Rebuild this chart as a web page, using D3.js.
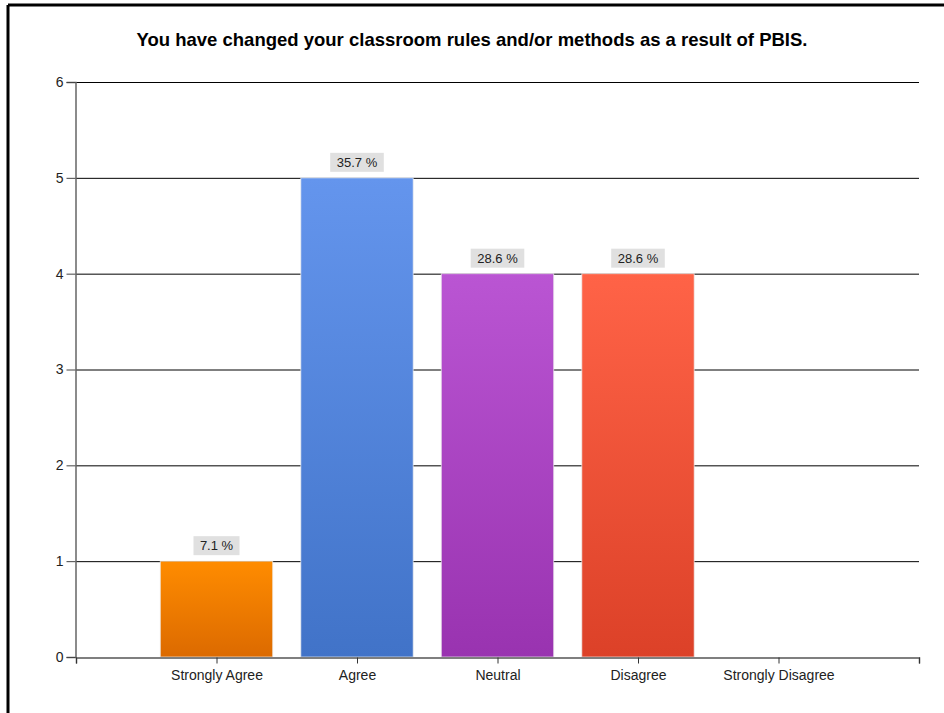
<!DOCTYPE html>
<html>
<head>
<meta charset="utf-8">
<script src="https://cdn.jsdelivr.net/npm/d3@7"></script>
<style>
  html, body { margin: 0; padding: 0; background: #fff; }
  svg { display: block; font-family: Arial, "Liberation Sans", sans-serif; }
</style>
</head>
<body>
<svg id="chart" width="944" height="713"></svg>
<script>
// chart data
const title = "You have changed your classroom rules and/or methods as a result of PBIS.";
const categories = ["Strongly Agree", "Agree", "Neutral", "Disagree", "Strongly Disagree"];
const counts = [1, 5, 4, 4, 0];
const percentLabels = ["7.1 %", "35.7 %", "28.6 %", "28.6 %", ""];
const topColors = ["#ff8c00", "#6495ed", "#ba55d3", "#ff6347"];
const bottomColors = ["#dc6a00", "#4173c8", "#9933b0", "#dc4128"];
const yTicks = [0, 1, 2, 3, 4, 5, 6];

const svg = d3.select("#chart");
const W = 944, H = 713;

// outer frame (left + top edges visible in the original)
svg.append("line").attr("x1", 8).attr("y1", 5).attr("x2", W).attr("y2", 5)
   .attr("stroke", "#000").attr("stroke-width", 3);
svg.append("line").attr("x1", 8).attr("y1", 5).attr("x2", 8).attr("y2", H)
   .attr("stroke", "#000").attr("stroke-width", 3);

// title
svg.append("text")
   .attr("x", 472).attr("y", 46)
   .attr("text-anchor", "middle")
   .style("font-size", "18.5px").style("font-weight", "bold")
   .text(title);

const plot = { left: 76, right: 919, top: 82, bottom: 657 };

// x is a linear slot scale: category i sits at i+1, axis runs 0..6
const x = d3.scaleLinear().domain([0, categories.length + 1]).range([plot.left, plot.right]);
const y = d3.scaleLinear().domain([0, 6]).range([plot.bottom, plot.top]);
const slot = x(1) - x(0);
const barW = slot * 0.8;

// gradients
const defs = svg.append("defs");
topColors.forEach((c, i) => {
  const g = defs.append("linearGradient").attr("id", "grad" + i)
    .attr("x1", 0).attr("y1", 0).attr("x2", 0).attr("y2", 1);
  g.append("stop").attr("offset", "0%").attr("stop-color", c);
  g.append("stop").attr("offset", "100%").attr("stop-color", bottomColors[i]);
});

// horizontal gridlines
svg.append("g").selectAll("line")
  .data(yTicks.filter(t => t > 0))
  .join("line")
  .attr("x1", plot.left).attr("x2", plot.right)
  .attr("y1", d => y(d) + 0.5).attr("y2", d => y(d) + 0.5)
  .attr("stroke", "#000").attr("stroke-width", 1);

// y axis
const yAxis = svg.append("g")
  .attr("transform", `translate(${plot.left - 0.5},0)`)
  .call(d3.axisLeft(y).tickValues(yTicks).tickSize(9).tickPadding(3).tickFormat(d3.format("d")));
yAxis.select(".domain").attr("stroke", "#666").attr("stroke-width", 1.5);
yAxis.selectAll(".tick line").attr("stroke", "#444");
yAxis.selectAll(".tick text").style("font-size", "14px").attr("fill", "#222");

// bars
const data = categories.map((c, i) => ({ cat: c, value: counts[i], label: percentLabels[i], i }));

svg.append("g").selectAll("rect")
  .data(data.filter(d => d.value > 0))
  .join("rect")
  .attr("x", d => x(d.i + 1) - barW / 2)
  .attr("width", barW)
  .attr("y", d => y(d.value))
  .attr("height", d => y(0) - y(d.value))
  .attr("fill", d => `url(#grad${d.i})`)
  .attr("stroke", "#eeeeee")
  .attr("stroke-opacity", 0.7)
  .attr("stroke-width", 1);

// value labels with gray background
const lbl = svg.append("g").selectAll("g")
  .data(data.filter(d => d.value > 0))
  .join("g")
  .attr("transform", d => `translate(${x(d.i + 1)},${y(d.value) - 15.5})`);
lbl.append("rect")
  .attr("x", d => -(d.label.length * 3.8 + 4))
  .attr("width", d => 2 * (d.label.length * 3.8 + 4))
  .attr("y", -9.5).attr("height", 19)
  .attr("fill", "#e0e0e0");
lbl.append("text")
  .attr("text-anchor", "middle")
  .attr("dy", "0.35em")
  .style("font-size", "13px")
  .attr("fill", "#222")
  .text(d => d.label);

// x axis
const xAxis = svg.append("g")
  .attr("transform", `translate(0,${plot.bottom + 0.5})`)
  .call(d3.axisBottom(x).tickValues(d3.range(0, categories.length + 2)).tickSize(6).tickPadding(7)
    .tickFormat(d => (d >= 1 && d <= categories.length) ? categories[d - 1] : ""));
xAxis.select(".domain").attr("stroke", "#555").attr("stroke-width", 1.5);
xAxis.selectAll(".tick line").attr("stroke", "#333");
xAxis.selectAll(".tick text").style("font-size", "14px").attr("fill", "#222");
</script>
</body>
</html>
